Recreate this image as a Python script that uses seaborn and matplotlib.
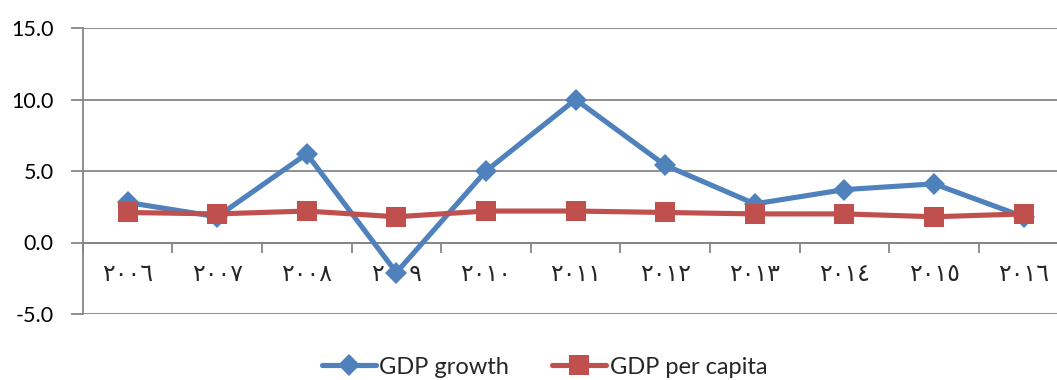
import numpy as np
import pandas as pd
import matplotlib
matplotlib.use("Agg")
import matplotlib.pyplot as plt
import seaborn as sns

years = ["٢٠٠٦", "٢٠٠٧", "٢٠٠٨", "٢٠٠٩", "٢٠١٠", "٢٠١١",
         "٢٠١٢", "٢٠١٣", "٢٠١٤", "٢٠١٥", "٢٠١٦"]
gdp_growth = [2.8, 1.8, 6.2, -2.1, 5.0, 10.0, 5.4, 2.7, 3.7, 4.1, 1.8]
gdp_per_capita = [2.1, 2.0, 2.2, 1.8, 2.2, 2.2, 2.1, 2.0, 2.0, 1.8, 2.0]
series_names = ["GDP growth", "GDP per capita"]
y_ticks = [-5.0, 0.0, 5.0, 10.0, 15.0]

df = pd.DataFrame({
    "idx": list(range(len(years))) * 2,
    "value": gdp_growth + gdp_per_capita,
    "series": [series_names[0]] * len(years) + [series_names[1]] * len(years),
})

sns.set_style("white")
plt.rcParams["font.family"] = ["Lato", "DejaVu Sans"]

fig = plt.figure(figsize=(10.57, 3.80), dpi=100)
ax = fig.add_axes([82.7 / 1057, 1 - 314 / 380, (1068.5 - 82.7) / 1057, (314 - 28) / 380])

blue = "#4F81BD"
red = "#C0504D"
sns.lineplot(data=df, x="idx", y="value", hue="series", style="series",
             palette={series_names[0]: blue, series_names[1]: red},
             markers={series_names[0]: "D", series_names[1]: "s"},
             dashes=False, linewidth=3.7, markersize=11, markeredgewidth=0,
             ax=ax, legend=True)
for ln in ax.lines:
    if ln.get_marker() == "s":
        ln.set_markersize(14.5)
        ln.set_zorder(4)
    else:
        ln.set_markersize(11)
        ln.set_zorder(3)

ax.set_xlim(-0.5, len(years) - 0.5)
ax.set_ylim(-5, 15)
ax.set_yticks(y_ticks)
ax.set_yticklabels([f"{v:.1f}" for v in y_ticks], fontsize=15.5, color="#000000")
ax.yaxis.grid(True, color="#868686", linewidth=1.3)
ax.set_axisbelow(True)

# category boundary ticks hanging from the zero line
ax.spines["bottom"].set_position(("data", 0))
ax.spines["bottom"].set_color("#868686")
ax.spines["bottom"].set_linewidth(1.3)
ax.set_xticks(np.arange(-0.5, len(years), 1.0))
ax.set_xticklabels([])
ax.tick_params(axis="x", which="major", direction="out", length=7, width=1.3,
               color="#868686", bottom=True)
ax.set_xticks(np.arange(len(years)), minor=True)
ax.set_xticklabels(years, minor=True, fontsize=17, family=["DejaVu Sans"])
ax.tick_params(axis="x", which="minor", length=0, pad=14)

ax.tick_params(axis="y", direction="out", length=9, width=1.3, color="#868686",
               left=True, pad=12)
ax.spines["left"].set_color("#868686")
ax.spines["left"].set_linewidth(1.3)
ax.spines["top"].set_visible(False)
ax.spines["right"].set_visible(False)
ax.set_xlabel("")
ax.set_ylabel("")

handles, labels = ax.get_legend_handles_labels()
ax.get_legend().remove()
for h in handles:
    h.set_linewidth(3.7)
    h.set_markeredgewidth(0)
    h.set_markersize(14.5 if h.get_marker() == "s" else 11)
fig.legend(handles, labels, loc="center", bbox_to_anchor=(0.515, 1 - 367 / 380),
           ncol=2, frameon=False, fontsize=17, handlelength=2.3,
           handletextpad=0.15, columnspacing=1.8)

fig.savefig("out.png", dpi=100)
